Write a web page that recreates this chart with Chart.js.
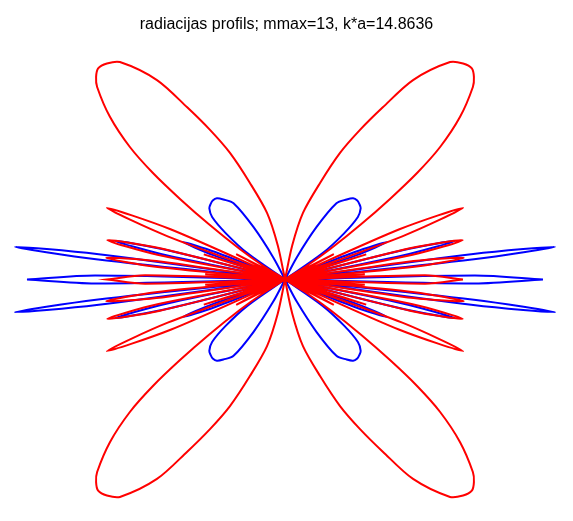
<!DOCTYPE html>
<html>
<head>
<meta charset="utf-8">
<script src="https://cdn.jsdelivr.net/npm/chart.js@4.4.1/dist/chart.umd.min.js"></script>
<style>
    html, body { margin: 0; padding: 0; background: #ffffff; }
    #wrap { width: 573px; height: 521px; }
</style>
</head>
<body>
<div id="wrap"><canvas id="chartProfils" width="573" height="521"></canvas></div>
<script>
// Radiacijas profils r(theta), one quadrant (90..180 deg), the rest is mirrored.
// Each lobe starts and ends at r = 0.
const titleText = 'radiacijas profils; mmax=13, k*a=14.8636';

const redTheta = [
    90, 99, 102, 105.1, 110, 113.5, 116.6, 119.6, 122.7, 127.2, 129.5, 131.5, 133, 134.3, 137.1, 139.5, 141.1, 142.5, 144, 146, 148, 150,
    152.5, 155,
    156.3, 158.1, 159.8, 161,
    162.8, 164.5,
    166, 167.5, 169, 170.3,
    171.8, 173.1, 174.4, 175.3,
    176.2, 177,
    178.3, 180
];
const redR = [
    0, 0, 0.35, 0.69, 1.03, 1.38, 1.67, 1.98, 2.37, 2.73, 2.80, 2.82, 2.77, 2.69, 2.39, 2.04, 1.70, 1.32, 0.94, 0.55, 0.25, 0,
    0.55, 0,
    1.25, 1.92, 1.25, 0,
    0.85, 0,
    1.30, 1.82, 1.30, 0,
    1.30, 1.80, 1.30, 0,
    0.80, 0,
    1.40, 1.78
];

const blueTheta = [
    90, 116, 118, 121, 124, 127.6, 130, 132.5, 134.5, 136.7, 139.4, 142, 145, 147,
    157, 158.5, 159.8, 161.2, 163,
    164.5, 166, 167.2, 168.5, 170,
    171, 172.3, 173.1, 173.9, 175.5,
    177, 178.8, 180
];
const blueR = [
    0, 0, 0.25, 0.61, 0.92, 1.01, 1.06, 1.07, 1.06, 1.04, 0.96, 0.75, 0.46, 0,
    0, 0.75, 1.09, 0.75, 0,
    0, 1.20, 1.75, 1.20, 0,
    0, 1.90, 2.72, 1.90, 0,
    0, 1.90, 2.58
];

// axis limits (axis equal, hidden)
const xLimits = [-2.85, 2.88];
const yLimits = [-2.415, 2.393];

// polar -> xy for the quadrant, then mirror into the other three
function buildCurve(theta, r) {
    const q2 = theta.map((t, i) => {
        const a = t * Math.PI / 180;
        return { x: r[i] * Math.cos(a), y: r[i] * Math.sin(a) };
    });
    const rev = q2.slice().reverse();
    return [
        ...rev.map(p => ({ x: -p.x, y: p.y })),
        ...q2,
        ...rev.map(p => ({ x: p.x, y: -p.y })),
        ...q2.map(p => ({ x: -p.x, y: -p.y }))
    ];
}

const ctx = document.getElementById('chartProfils').getContext('2d');

new Chart(ctx, {
    type: 'scatter',
    data: {
        datasets: [
            {
                data: buildCurve(redTheta, redR),
                showLine: true,
                borderColor: '#ff0000',
                borderWidth: 2,
                pointRadius: 0,
                tension: 0.3
            },
            {
                data: buildCurve(blueTheta, blueR),
                showLine: true,
                borderColor: '#0000ff',
                borderWidth: 2,
                pointRadius: 0,
                tension: 0.3
            }
        ]
    },
    options: {
        responsive: false,
        animation: false,
        layout: { padding: 0 },
        scales: {
            x: { type: 'linear', min: xLimits[0], max: xLimits[1], display: false },
            y: { type: 'linear', min: yLimits[0], max: yLimits[1], display: false }
        },
        plugins: {
            legend: { display: false },
            tooltip: { enabled: false },
            title: {
                display: true,
                text: titleText,
                color: '#000000',
                font: { family: "'Liberation Sans', Arial, sans-serif", size: 16, weight: 'normal' },
                padding: { top: 15, bottom: 6 }
            }
        }
    }
});
</script>
</body>
</html>
